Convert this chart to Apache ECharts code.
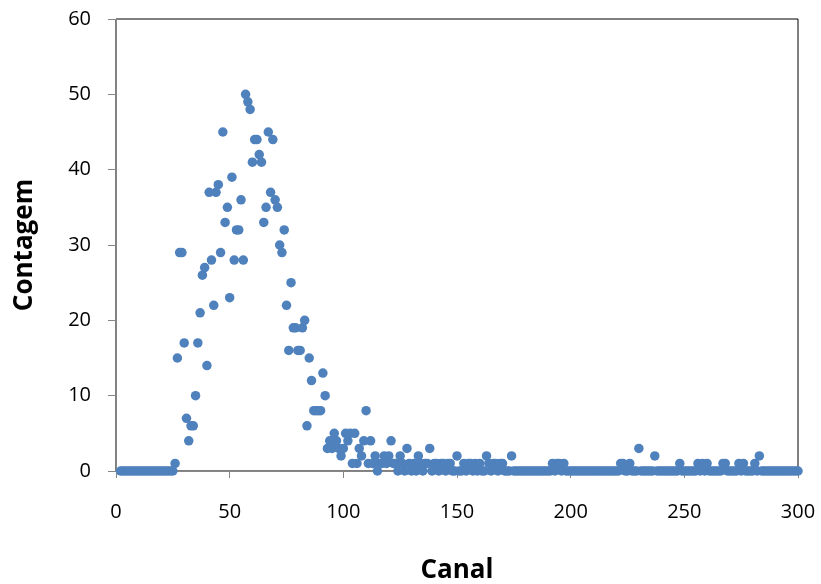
<!DOCTYPE html>
<html>
<head>
<meta charset="utf-8">
<script src="https://cdn.jsdelivr.net/npm/echarts@6/dist/echarts.min.js"></script>
<style>
html,body{margin:0;padding:0;background:#fff;}
#chart{width:821px;height:584px;}
</style>
</head>
<body>
<div id="chart"></div>
<script>
// Channel numbers start at firstChannel and increase by one per count
const firstChannel = 2;
const counts = [
  0,0,0,0,0,0,0,0,0,0,        // 2-11
  0,0,0,0,0,0,0,0,0,0,        // 12-21
  0,0,0,0,1,15,29,29,17,7,    // 22-31
  4,6,6,10,17,21,26,27,14,37, // 32-41
  28,22,37,38,29,45,33,35,23,39, // 42-51
  28,32,32,36,28,50,49,48,41,44, // 52-61
  44,42,41,33,35,45,37,44,36,35, // 62-71
  30,29,32,22,16,25,19,19,16,16, // 72-81
  19,20,6,15,12,8,8,8,8,13,   // 82-91
  10,3,4,3,5,4,3,2,3,5,       // 92-101
  4,5,1,5,1,3,2,4,8,1,        // 102-111
  4,1,2,0,1,1,2,1,2,4,        // 112-121
  1,1,0,2,1,0,3,1,0,1,        // 122-131
  0,2,1,0,1,1,3,0,1,1,        // 132-141
  0,1,1,0,1,1,0,0,2,0,        // 142-151
  0,1,0,1,1,0,1,0,1,0,        // 152-161
  0,2,1,0,1,1,0,1,1,0,        // 162-171
  0,0,2,0,0,0,0,0,0,0,        // 172-181
  0,0,0,0,0,0,0,0,0,0,        // 182-191
  1,0,1,1,0,1,0,0,0,0,        // 192-201
  0,0,0,0,0,0,0,0,0,0,        // 202-211
  0,0,0,0,0,0,0,0,0,0,        // 212-221
  1,1,0,0,1,0,0,0,3,0,        // 222-231
  0,0,0,0,0,2,0,0,0,0,        // 232-241
  0,0,0,0,0,0,1,0,0,0,        // 242-251
  0,0,0,0,1,0,1,0,1,0,        // 252-261
  0,0,0,0,0,1,1,0,0,0,        // 262-271
  0,0,1,0,1,0,0,0,0,1,        // 272-281
  0,2,0,0,0,0,0,0,0,0,        // 282-291
  0,0,0,0,0,0,0,0,0           // 292-300
];
const xTitle = 'Canal';
const yTitle = 'Contagem';

const points = counts.map((c, i) => [firstChannel + i, c]);

const chart = echarts.init(document.getElementById('chart'), null, {renderer: 'canvas'});
const axisGrey = '#868686';
const fontFam = '"Open Sans", "Liberation Sans", sans-serif';
chart.setOption({
  animation: false,
  backgroundColor: '#ffffff',
  grid: {left: 116, right: 23, top: 19, bottom: 113, show: true, borderColor: '#000000', borderWidth: 1, containLabel: false, outerBoundsMode: 'none'},
  xAxis: {
    type: 'value', min: 0, max: 300, interval: 50,
    name: xTitle, nameLocation: 'middle', nameGap: 87,
    nameTextStyle: {fontSize: 26, fontWeight: 'bold', color: '#000', fontFamily: fontFam},
    axisLine: {show: true, onZero: false, lineStyle: {color: axisGrey, width: 1}},
    axisTick: {show: true, inside: false, length: 7, lineStyle: {color: axisGrey}},
    axisLabel: {fontSize: 20, color: '#000', margin: 31, fontFamily: fontFam},
    splitLine: {show: false}
  },
  yAxis: {
    type: 'value', min: 0, max: 60, interval: 10,
    name: yTitle, nameLocation: 'middle', nameGap: 78, nameRotate: 90,
    nameTextStyle: {fontSize: 26, fontWeight: 'bold', color: '#000', fontFamily: fontFam},
    axisLine: {show: true, onZero: false, lineStyle: {color: axisGrey, width: 1}},
    axisTick: {show: true, inside: false, length: 8, lineStyle: {color: axisGrey}},
    axisLabel: {fontSize: 20, color: '#000', margin: 25, fontFamily: fontFam},
    splitLine: {show: false}
  },
  series: [{
    type: 'scatter',
    data: points,
    symbol: 'circle',
    symbolSize: 9.5,
    itemStyle: {color: '#4F81BD', opacity: 1},
    clip: false
  }]
});
</script>
</body>
</html>
